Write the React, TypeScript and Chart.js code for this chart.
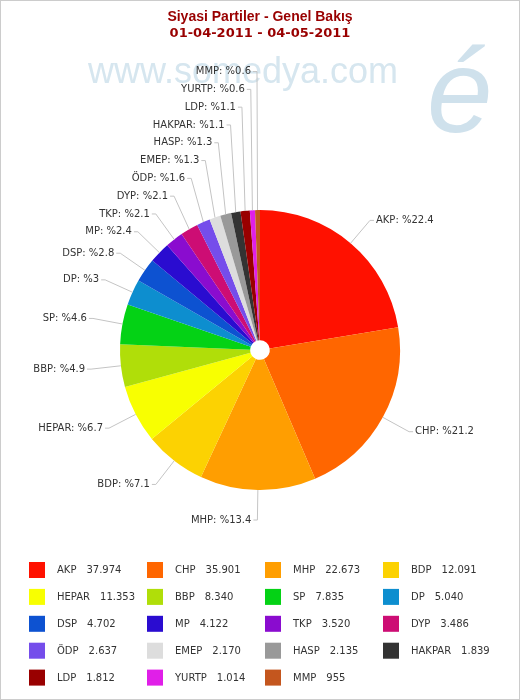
import { useEffect, useRef } from "react";
import { Chart, registerables } from "chart.js";

Chart.register(...registerables);

const parties = ["AKP", "CHP", "MHP", "BDP", "HEPAR", "BBP", "SP", "DP", "DSP", "MP", "TKP", "DYP", "ÖDP", "EMEP", "HASP", "HAKPAR", "LDP", "YURTP", "MMP"];
const votes = [37974, 35901, 22673, 12091, 11353, 8340, 7835, 5040, 4702, 4122, 3520, 3486, 2637, 2170, 2135, 1839, 1812, 1014, 955];
const sliceColors = ["#FF1100", "#FF6600", "#FF9E01", "#FCD202", "#F8FF01", "#B0DE09", "#04D215", "#0D8ECF", "#0D52D1", "#2A0CD0", "#8A0CCF", "#CD0D74", "#754DEB", "#DDDDDD", "#999999", "#333333", "#990000", "#E01FE8", "#C4561E"];
const titleLines = ["Siyasi Partiler - Genel Bakış", "01-04-2011 - 04-05-2011"];
const watermarkText = "www.somedya.com";
const watermarkMark = "é";

const CANVAS_W = 518;
const CANVAS_H = 698;
const LABEL_DISTANCE = 30;
const LABEL_GAP = 17.8;
const LABEL_FONT = "10px 'DejaVu Sans'";
const TEXT_COLOR = "#333333";
const CONNECTOR_COLOR = "#c4c4c4";

const fmtThousands = (n: number) => String(n).replace(/\B(?=(\d{3})+(?!\d))/g, ".");
const fmtPct = (v: number, total: number) => String(Math.round((v / total) * 1000) / 10);

const watermarkPlugin = {
  id: "watermark",
  beforeDraw(chart: any) {
    const ctx = chart.ctx as CanvasRenderingContext2D;
    ctx.save();
    ctx.fillStyle = "#d6e6ef";
    ctx.font = "36px 'Liberation Sans'";
    ctx.textAlign = "left";
    ctx.textBaseline = "alphabetic";
    ctx.fillText(watermarkText, 87, 82);
    ctx.fillStyle = "#cfe1ec";
    ctx.font = "italic 118px 'Liberation Sans'";
    ctx.fillText(watermarkMark, 426, 131);
    ctx.restore();
  },
};

const pieLabelsPlugin = {
  id: "pieLabels",
  afterDatasetsDraw(chart: any) {
    const meta = chart.getDatasetMeta(0);
    const values = chart.data.datasets[0].data as number[];
    const labels = chart.data.labels as string[];
    const total = values.reduce((a, b) => a + b, 0);
    const ctx = chart.ctx as CanvasRenderingContext2D;
    const items = meta.data.map((arc: any, i: number) => {
      const { x, y, startAngle, endAngle, outerRadius } = arc.getProps(["x", "y", "startAngle", "endAngle", "outerRadius"], true);
      const mid = (startAngle + endAngle) / 2;
      const c = Math.cos(mid);
      const s = Math.sin(mid);
      const R = outerRadius + LABEL_DISTANCE;
      return { i, mid, right: c >= 0, ex: x + outerRadius * c, ey: y + outerRadius * s, nx: x + R * c, ny: y + R * s, ly: y + R * s };
    });
    const left = items.filter((p: any) => !p.right).sort((a: any, b: any) => a.mid - b.mid);
    const right = items.filter((p: any) => p.right).sort((a: any, b: any) => b.mid - a.mid);
    const topBound = chart.chartArea.top + 20;
    for (const group of [left, right]) {
      let prev = Infinity;
      for (const p of group) {
        p.ly = Math.min(p.ny, prev - LABEL_GAP);
        prev = p.ly;
      }
      let prevTop = -Infinity;
      for (let k = group.length - 1; k >= 0; k--) {
        const p = group[k];
        p.ly = Math.max(p.ly, prevTop + LABEL_GAP, topBound);
        prevTop = p.ly;
      }
    }
    ctx.save();
    ctx.font = LABEL_FONT;
    ctx.textBaseline = "middle";
    ctx.lineWidth = 1;
    ctx.strokeStyle = CONNECTOR_COLOR;
    for (const p of items) {
      const dir = p.right ? 1 : -1;
      ctx.beginPath();
      ctx.moveTo(p.nx + dir * 4, p.ly);
      ctx.lineTo(p.nx, p.ly);
      ctx.lineTo(p.ex, p.ey);
      ctx.stroke();
      ctx.fillStyle = TEXT_COLOR;
      ctx.textAlign = p.right ? "left" : "right";
      ctx.fillText(`${labels[p.i]}: %${fmtPct(values[p.i], total)}`, p.nx + dir * 6, p.ly);
    }
    ctx.restore();
  },
};

const LEGEND = { left: 28, top: 561, colW: 118, rowH: 26.9, box: 16, textDx: 28, valueGap: 10, cols: 4 };

const gridLegendPlugin = {
  id: "gridLegend",
  afterDraw(chart: any) {
    const ctx = chart.ctx as CanvasRenderingContext2D;
    const labels = chart.data.labels as string[];
    const values = chart.data.datasets[0].data as number[];
    const cols = chart.data.datasets[0].backgroundColor as string[];
    ctx.save();
    ctx.font = LABEL_FONT;
    ctx.textBaseline = "middle";
    ctx.textAlign = "left";
    labels.forEach((name, i) => {
      const col = i % LEGEND.cols;
      const row = Math.floor(i / LEGEND.cols);
      const bx = LEGEND.left + col * LEGEND.colW;
      const by = LEGEND.top + row * LEGEND.rowH;
      ctx.fillStyle = cols[i];
      ctx.fillRect(bx, by, LEGEND.box, LEGEND.box);
      ctx.fillStyle = TEXT_COLOR;
      const cy = by + LEGEND.box / 2 + 0.5;
      const tx = bx + LEGEND.textDx;
      ctx.fillText(name, tx, cy);
      const w = ctx.measureText(name).width;
      ctx.fillText(fmtThousands(values[i]), tx + w + LEGEND.valueGap, cy);
    });
    ctx.restore();
  },
};

export default function App() {
  const canvasRef = useRef<HTMLCanvasElement | null>(null);

  useEffect(() => {
    document.body.style.margin = "0";
    const canvas = canvasRef.current;
    if (!canvas) return;
    const chart = new Chart(canvas, {
      type: "doughnut",
      data: {
        labels: parties,
        datasets: [
          {
            data: votes,
            backgroundColor: sliceColors,
            borderWidth: 0,
            radius: 140,
            cutout: "7%",
            hoverOffset: 0,
          } as any,
        ],
      },
      options: {
        responsive: false,
        animation: false,
        events: [],
        rotation: 0,
        layout: { padding: { top: 0, bottom: 41.2, left: 0, right: 0 } },
        plugins: {
          legend: { display: false },
          tooltip: { enabled: false },
          title: {
            display: true,
            text: titleLines[0],
            color: "#990000",
            font: { family: "'Liberation Sans'", size: 14, weight: "bold", lineHeight: 1.2 },
            padding: { top: 7.6, bottom: 0 },
          },
          subtitle: {
            display: true,
            text: titleLines[1],
            color: "#990000",
            font: { family: "'DejaVu Sans'", size: 13, weight: "bold", lineHeight: 1.3 },
            padding: { top: 0, bottom: 0 },
          },
        },
      } as any,
      plugins: [watermarkPlugin, pieLabelsPlugin, gridLegendPlugin],
    });
    return () => chart.destroy();
  }, []);

  return (
    <div style={{ width: 520, height: 700, border: "1px solid #cccccc", boxSizing: "border-box", background: "#ffffff" }}>
      <canvas ref={canvasRef} width={CANVAS_W} height={CANVAS_H} style={{ display: "block", width: CANVAS_W, height: CANVAS_H }} />
    </div>
  );
}
